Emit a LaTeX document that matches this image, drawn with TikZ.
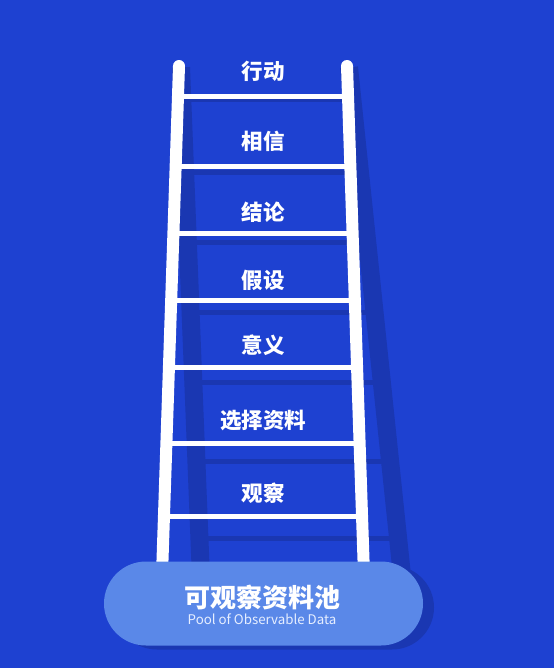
\documentclass[tikz,border=0pt]{standalone}
\usepackage{fontspec}
\newfontfamily\cjk{Noto Sans CJK SC}
\usetikzlibrary{positioning,shapes.misc}

\definecolor{bgblue}{HTML}{1E41D1}
\definecolor{shadeblue}{HTML}{1A37B2}
\definecolor{poolblue}{HTML}{5A88E8}
\definecolor{pooltext}{HTML}{E6EEFF}

\tikzset{
  rail/.style={white, line width=12pt, line cap=round},
  rung/.style={white, line width=5pt},
  shaderail/.style={shadeblue, line width=18pt},
  shaderung/.style={shadeblue, line width=5pt},
  steplabel/.style={text=white, font=\cjk\bfseries\fontsize{21.5}{25}\selectfont},
  pool/.style={rounded rectangle, fill=poolblue, minimum width=319pt, minimum height=84pt, inner sep=0pt},
}

\begin{document}
\begin{tikzpicture}[x=1pt,y=-1pt]

  % Background
  \fill[bgblue] (0,0) rectangle (554,668);
  \useasboundingbox (0,0) rectangle (554,668);

  % Shadow of the ladder
  \begin{scope}[cm={1,0,-0.075,1.046,(-2.95pt,1.7pt)}]
    \foreach \y in {97,167,233,300,367,443,516} {
      \pgfmathsetmacro\xl{179-17*(\y-66)/499}
      \pgfmathsetmacro\xr{347+17*(\y-66)/499}
      \draw[shaderung] (\xl,\y) -- (\xr,\y);
    }
    \draw[shaderail] (179,66) -- (162,565);
    \draw[shaderail] (347,66) -- (364,565);
  \end{scope}

  % Ladder
  \foreach \y in {97,167,233,300,367,443,516} {
    \pgfmathsetmacro\xl{179-17*(\y-66)/499}
    \pgfmathsetmacro\xr{347+17*(\y-66)/499}
    \draw[rung] (\xl,\y) -- (\xr,\y);
  }
  \draw[rail] (179,66) -- (162,575);
  \draw[rail] (347,66) -- (364,575);

  % Define nodes
  \node[steplabel] (act)     at (263,71)  {行动};
  \node[steplabel] (believe) at (263,141) {相信};
  \node[steplabel] (concl)   at (263,212) {结论};
  \node[steplabel] (assume)  at (263,280) {假设};
  \node[steplabel] (mean)    at (263,345) {意义};
  \node[steplabel] (select)  at (263,420) {选择资料};
  \node[steplabel] (observe) at (263,493) {观察};

  % Pool
  \node[pool, fill=shadeblue] (poolshade) at (274.5,607.5) {};
  \node[pool] (pool) at (263.5,603.5) {};
  \node[text=white, font=\cjk\bfseries\fontsize{26}{30}\selectfont] (pooltitle) at (262,598) {可观察资料池};
  \node[text=pooltext, font=\cjk\fontsize{13.3}{15}\selectfont, below=-3.5pt of pooltitle] (poolsub) {Pool of Observable Data};

\end{tikzpicture}
\end{document}
